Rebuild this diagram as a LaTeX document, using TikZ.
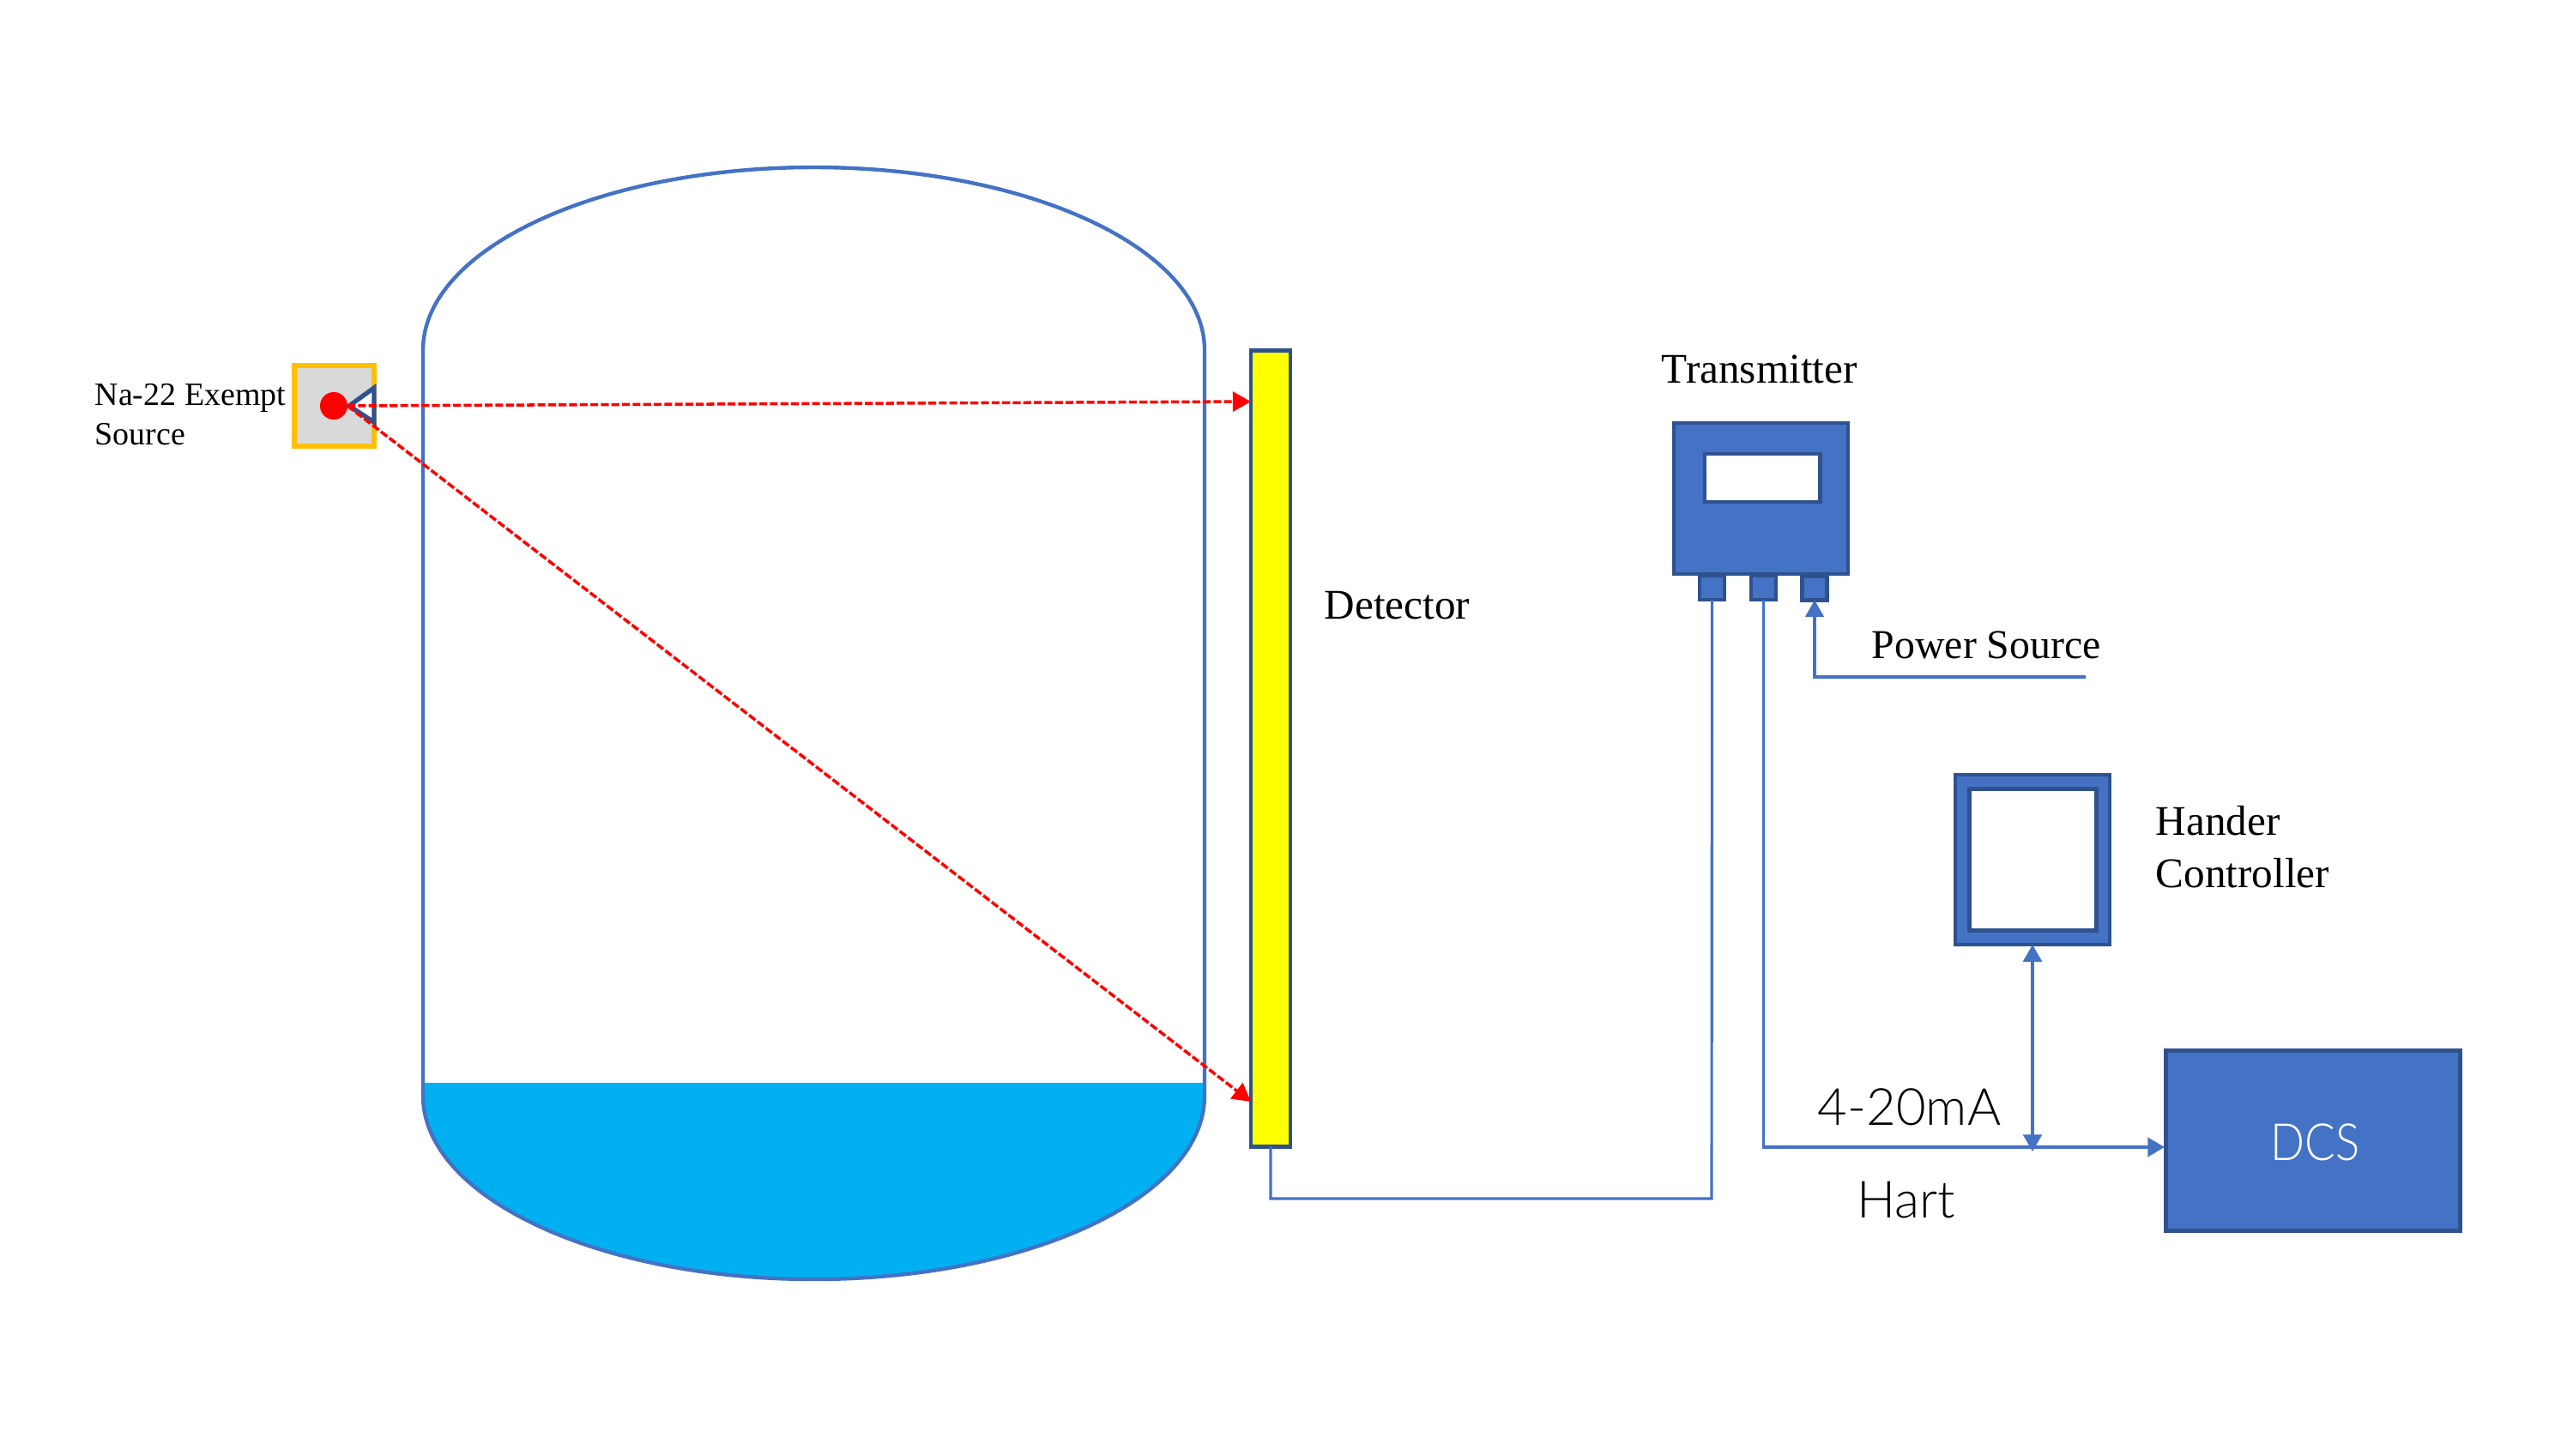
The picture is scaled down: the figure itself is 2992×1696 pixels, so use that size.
\documentclass[tikz,border=0pt]{standalone}
\usepackage{fontspec}
\setmainfont{Liberation Serif}
\newfontfamily\lbl[UprightFont=* Light]{Lato}
\usetikzlibrary{arrows.meta}
\definecolor{blueA}{HTML}{4472C4}
\definecolor{blueD}{HTML}{2F528F}
\definecolor{liquid}{HTML}{00B0F0}
\definecolor{amber}{HTML}{FFC000}
\definecolor{greyF}{HTML}{D9D9D9}
\definecolor{yel}{HTML}{FFFF00}
\definecolor{rayred}{HTML}{FF0000}
\tikzset{
 x=0.01cm,y=-0.01cm,
 pbox/.style={draw=blueD,fill=blueA,line width=1.3pt,inner sep=0pt,outer sep=0pt},
 wbox/.style={draw=blueD,fill=white,line width=1.4pt,inner sep=0pt,outer sep=0pt},
 conn/.style={draw=blueA,line width=0.9pt},
 tip/.style={-{Triangle[length=5.6pt,width=6.2pt]}},
 dtip/.style={{Triangle[length=5.6pt,width=6.2pt]}-{Triangle[length=5.6pt,width=6.2pt]}},
 ray/.style={draw=rayred,line width=1pt,dash pattern=on 2.6pt off 0.9pt,-{Triangle[length=6pt,width=6.5pt]}},
 serifA/.style={anchor=base west,inner sep=0pt,font=\fontsize{10.8}{12}\selectfont},
 serifB/.style={anchor=base west,inner sep=0pt,font=\fontsize{13.6}{16}\selectfont},
 serifC/.style={anchor=base west,inner sep=0pt,font=\fontsize{14}{16}\selectfont},
 sansA/.style={anchor=base west,inner sep=0pt,font=\lbl\fontsize{17}{20}\selectfont},
}
\begin{document}
\begin{tikzpicture}
\useasboundingbox (0,0) rectangle (2992,1696);
% tank
\fill[liquid] (493,1262) -- (1404,1262) -- (1404,1277) arc[start angle=0,end angle=180,x radius=455.5,y radius=214] -- cycle;
\draw[blueA,line width=1.25pt] (493,1277) -- (493,408) arc[start angle=180,end angle=360,x radius=455.5,y radius=213] -- (1404,1277) arc[start angle=0,end angle=180,x radius=455.5,y radius=214];
% source
\node[draw=amber,fill=greyF,line width=1.7pt,minimum width=0.93cm,minimum height=0.94cm,inner sep=0pt] (src) at (389.5,473) {};
\node[fill=rayred,circle,minimum size=0.32cm,inner sep=0pt] (dot) at (389,473) {};
\draw[blueD,line width=1.5pt,fill=white,line join=miter] (407,473) -- (436,452) -- (436,492) -- cycle;
\coordinate (srcpt) at (405,473);
% detector
\node[draw=blueD,fill=yel,line width=1.3pt,minimum width=0.46cm,minimum height=9.27cm,inner sep=0pt,outer sep=0pt] (det) at (1481,872.5) {};
\coordinate (hitA) at (1458,468);
\coordinate (hitB) at (1458,1284);
\draw[ray] (srcpt) -- (hitA);
\draw[ray] (srcpt) -- (hitB);
% transmitter
\node[pbox,minimum width=2.03cm,minimum height=1.76cm] (tx) at (2052.5,581) {};
\node[wbox,minimum width=1.34cm,minimum height=0.56cm] (screen) at (2054,557) {};
\node[pbox,minimum width=0.29cm,minimum height=0.28cm] (stubA) at (1995.5,685) {};
\node[pbox,minimum width=0.29cm,minimum height=0.28cm] (stubB) at (2055.5,685) {};
\node[pbox,minimum width=0.29cm,minimum height=0.28cm] (stubC) at (2115,685.5) {};
% hander
\node[pbox,minimum width=1.80cm,minimum height=1.98cm] (hand) at (2369,1002) {};
\node[wbox,minimum width=1.48cm,minimum height=1.65cm] (handin) at (2369.5,1002) {};
% dcs
\node[pbox,minimum width=3.43cm,minimum height=2.1cm] (dcs) at (2696,1329.5) {};
% connectors
\coordinate (cA) at (1995,1397);
\coordinate (powerEnd) at (2431,789);
\coordinate (dcsIn) at (2523,1337);
\coordinate (busMid) at (2215,1337);
\coordinate (busJoin) at (2369,1342);
\draw[conn] (det.south) |- (cA) -- (stubA.south);
\draw[conn,tip] (powerEnd) -| (stubC.south);
\draw[conn] (stubB.south) |- (busMid);
\draw[conn,line width=1.3pt,tip] (busMid) -- (dcsIn);
\draw[conn,dtip] (hand.south) -- (busJoin);
% labels
\node[serifA] (lNa) at (110,472) {Na-22 Exempt};
\node[serifA] (lSrc) at (110,518) {Source};
\node[serifC] (lTx) at (1936,446) {Transmitter};
\node[serifB] (lPow) at (2181,767) {Power Source};
\node[serifC] (lDet) at (1543,721) {Detector};
\node[serifC] (lHan) at (2512,973) {Hander};
\node[serifC] (lCon) at (2512,1034) {Controller};
\node[sansA] (lMa) at (2118,1311) {4-20mA};
\node[sansA] (lHart) at (2164,1419) {Hart};
\node[sansA,text=white] (lDcs) at (2646,1352) {\scalebox{0.88}[1]{DCS}};
\end{tikzpicture}
\end{document}
